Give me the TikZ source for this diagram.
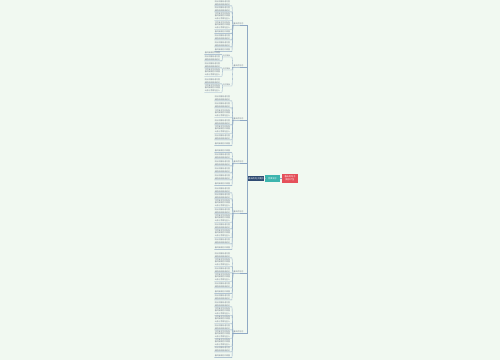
\documentclass[tikz,border=0pt]{standalone}
\usepackage{fontspec}
\setmainfont{Noto Sans CJK SC}
\definecolor{bgc}{HTML}{F1F9F1}
\definecolor{linec}{HTML}{8FA9C4}
\definecolor{rootred}{HTML}{E5505A}
\definecolor{tealc}{HTML}{3DB5AE}
\definecolor{navyc}{HTML}{2F4B72}
\definecolor{leaftxt}{HTML}{6E7888}
\newcommand\lfline[1]{\ifcase#1 春风拂面花开满园\or 阳光明媚鸟语花香\or 细雨绵绵柳绿桃红\or 万物复苏生机勃勃\or 山清水秀景色宜人\fi}
\newcommand\lftext[1]{\ifcase#1\or \lfline{0}\or \lfline{1}\\\lfline{2}\or \lfline{3}\\\lfline{0}\\\lfline{4}\or \lfline{2}\\\lfline{1}\\\lfline{3}\\\lfline{4}\fi}
\tikzset{
  conn/.style={draw=linec, line width=0.35pt},
  leaf/.style={font=\fontsize{1.9}{2.6}\selectfont, text=leaftxt, align=left, inner xsep=0.3pt, inner ysep=0.5pt, anchor=east},
  blabel/.style={font=\fontsize{2}{2.6}\selectfont, text=leaftxt, anchor=south west, inner xsep=0.3pt, inner ysep=0.5pt, text width=13pt},
  slabel/.style={font=\fontsize{1.8}{2.4}\selectfont, text=leaftxt, anchor=south west, inner xsep=0.3pt, inner ysep=0.5pt, text width=8pt},
  rootbox/.style={font=\fontsize{2.2}{2.8}\selectfont, text=white, align=center, inner sep=0.6pt}
}
\begin{document}
\begin{tikzpicture}[x=1pt,y=-1pt]
\fill[bgc] (0,0) rectangle (500,360);
\useasboundingbox (0,0) rectangle (500,360);
% root chain
\node[rootbox, fill=rootred, minimum width=16pt, minimum height=9pt] (root) at (290,178.5) {春天的句子\\摘抄大全};
\node[rootbox, fill=tealc, minimum width=15pt, minimum height=6.5pt] (sub) at (272.5,178.5) {优美句子};
\node[rootbox, fill=navyc, minimum width=16pt, minimum height=5pt] (main) at (256,178.5) {春天的句子摘抄};
\draw[conn] (root.west) -- (sub.east);
\draw[conn] (sub.west) -- (main.east);
% branches
\foreach \n/\y in {1/25,2/67,3/120,4/163,5/213,6/273,7/333}{
  \node[blabel] (b\n) at (233,\y) {春天的句子};
  \draw[conn] (main.west) -- (247,178.5) |- (b\n.south east) -- (b\n.south west) -- (232,\y);
}
% leaves of ordinary branches
\foreach \n/\list in {
  1/{3/2,9/2,16/3,25/3,32/1,37/2,44/2,50/1},
  3/{98/2,105/2,113/3,122/2,129/3,137/2,144/1},
  4/{151/1,156/2,163/2,170/2,177/2,184/1},
  5/{190/2,196/2,203/3,211/2,218/3,226/2,233/3,241/2,248/1},
  6/{255/2,262/3,270/2,277/3,285/2,292/1,297/2},
  7/{304/2,311/3,319/3,327/2,334/3,342/3,349/2,356/1}}{
  \foreach \yy/\k [count=\j] in \list {
    \node[leaf] (l\n-\j) at (230.5,\yy) {\lftext{\k}};
    \draw[conn] (l\n-\j.south west) -- (l\n-\j.south east) -- (232,\yy |- l\n-\j.south east) -- (b\n.south west);
  }
}
% branch 2 with sub-branches
\foreach \s/\y/\list in {1/57/{53/1,58/2},2/70/{65/2,72/3},3/86/{81/2,88/3}}{
  \node[slabel] (s\s) at (222.5,\y) {句子摘抄};
  \draw[conn] (s\s.south west) -- (s\s.south east) -- (232,\y) -- (b2.south west);
  \foreach \yy/\k [count=\j] in \list {
    \node[leaf] (m\s-\j) at (220.5,\yy) {\lftext{\k}};
    \draw[conn] (m\s-\j.south west) -- (m\s-\j.south east) -- (222,\yy |- m\s-\j.south east) -- (s\s.south west);
  }
}
\end{tikzpicture}
\end{document}
